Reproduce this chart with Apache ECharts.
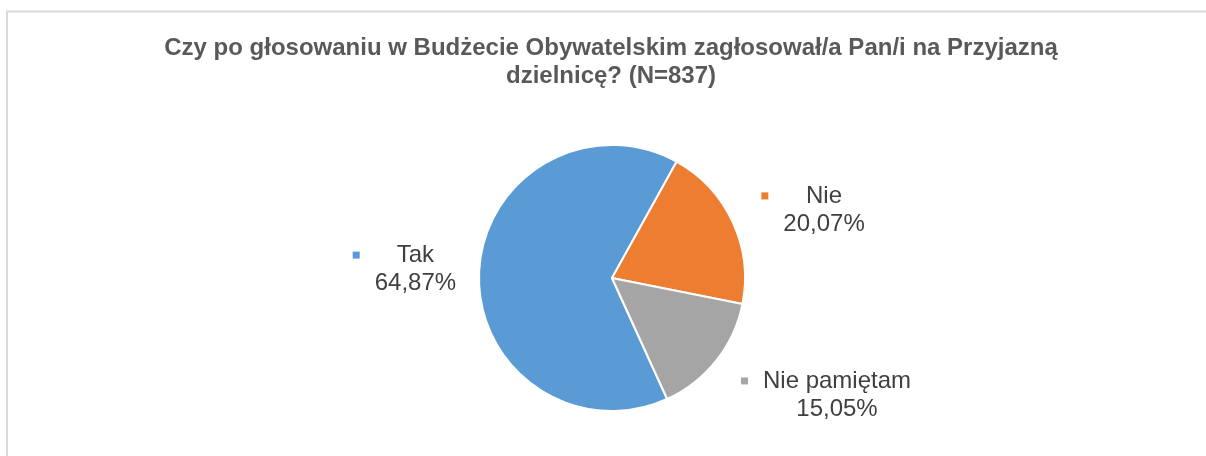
<!DOCTYPE html>
<html>
<head>
<meta charset="utf-8">
<script src="https://cdn.jsdelivr.net/npm/echarts@6/dist/echarts.min.js"></script>
<style>
html,body{margin:0;padding:0;background:#fff;}
#chart{width:1206px;height:456px;}
</style>
</head>
<body>
<div id="chart"></div>
<script>
// ---- data ----
const titleLines = ['Czy po głosowaniu w Budżecie Obywatelskim zagłosował/a Pan/i na Przyjazną', 'dzielnicę? (N=837)'];
const categories = ['Tak', 'Nie', 'Nie pamiętam'];
const values = [64.87, 20.07, 15.05];

// ---- styles ----
const colors = ['#5B9BD5', '#ED7D31', '#A5A5A5'];
const labelNudge = [[-3, -3], [10, -6], [8, 25]];

function fmt(v) { return v.toFixed(2).replace('.', ',') + '%'; }

const FONT = 'Liberation Sans, Arial, sans-serif';
const rich = {
  g: { width: 15, height: 7, align: 'left' },
  s: { width: 22, height: 7, align: 'left' },
  n: { fontSize: 24, lineHeight: 28, color: '#404040', align: 'center', fontFamily: FONT },
  v: { fontSize: 24, lineHeight: 28, color: '#404040', align: 'center', fontFamily: FONT }
};
colors.forEach((c, i) => { rich['m' + i] = { width: 7, height: 7, backgroundColor: c, fontSize: 1, align: 'left' }; });

const chart = echarts.init(document.getElementById('chart'), null, { renderer: 'canvas' });
chart.setOption({
  animation: false,
  backgroundColor: '#ffffff',
  graphic: [{
    type: 'rect', silent: true, z: -10,
    shape: { x: 7, y: 11.5, width: 1400, height: 700 },
    style: { fill: 'none', stroke: '#d9d9d9', lineWidth: 2 }
  }],
  title: {
    text: titleLines.join('\n'),
    left: 611, top: 34, textAlign: 'center', padding: 0,
    textStyle: { fontFamily: FONT, fontSize: 24, fontWeight: 'bold', color: '#595959', lineHeight: 28 }
  },
  series: [{
    type: 'pie',
    center: [612, 278],
    radius: 133,
    startAngle: -65.5,
    clockwise: true,
    avoidLabelOverlap: false,
    itemStyle: { borderColor: '#ffffff', borderWidth: 2 },
    label: {
      show: true,
      position: 'outside',
      formatter: p => `{m${p.dataIndex}| }{g| }{n|${p.name}}\n{s| }{v|${fmt(p.value)}}`,
      rich: rich
    },
    labelLine: { show: false, length: 15, length2: 0 },
    labelLayout: p => ({ dx: labelNudge[p.dataIndex][0], dy: labelNudge[p.dataIndex][1] }),
    emphasis: { disabled: true },
    data: categories.map((c, i) => ({ name: c, value: values[i], itemStyle: { color: colors[i] } }))
  }]
});
</script>
</body>
</html>
